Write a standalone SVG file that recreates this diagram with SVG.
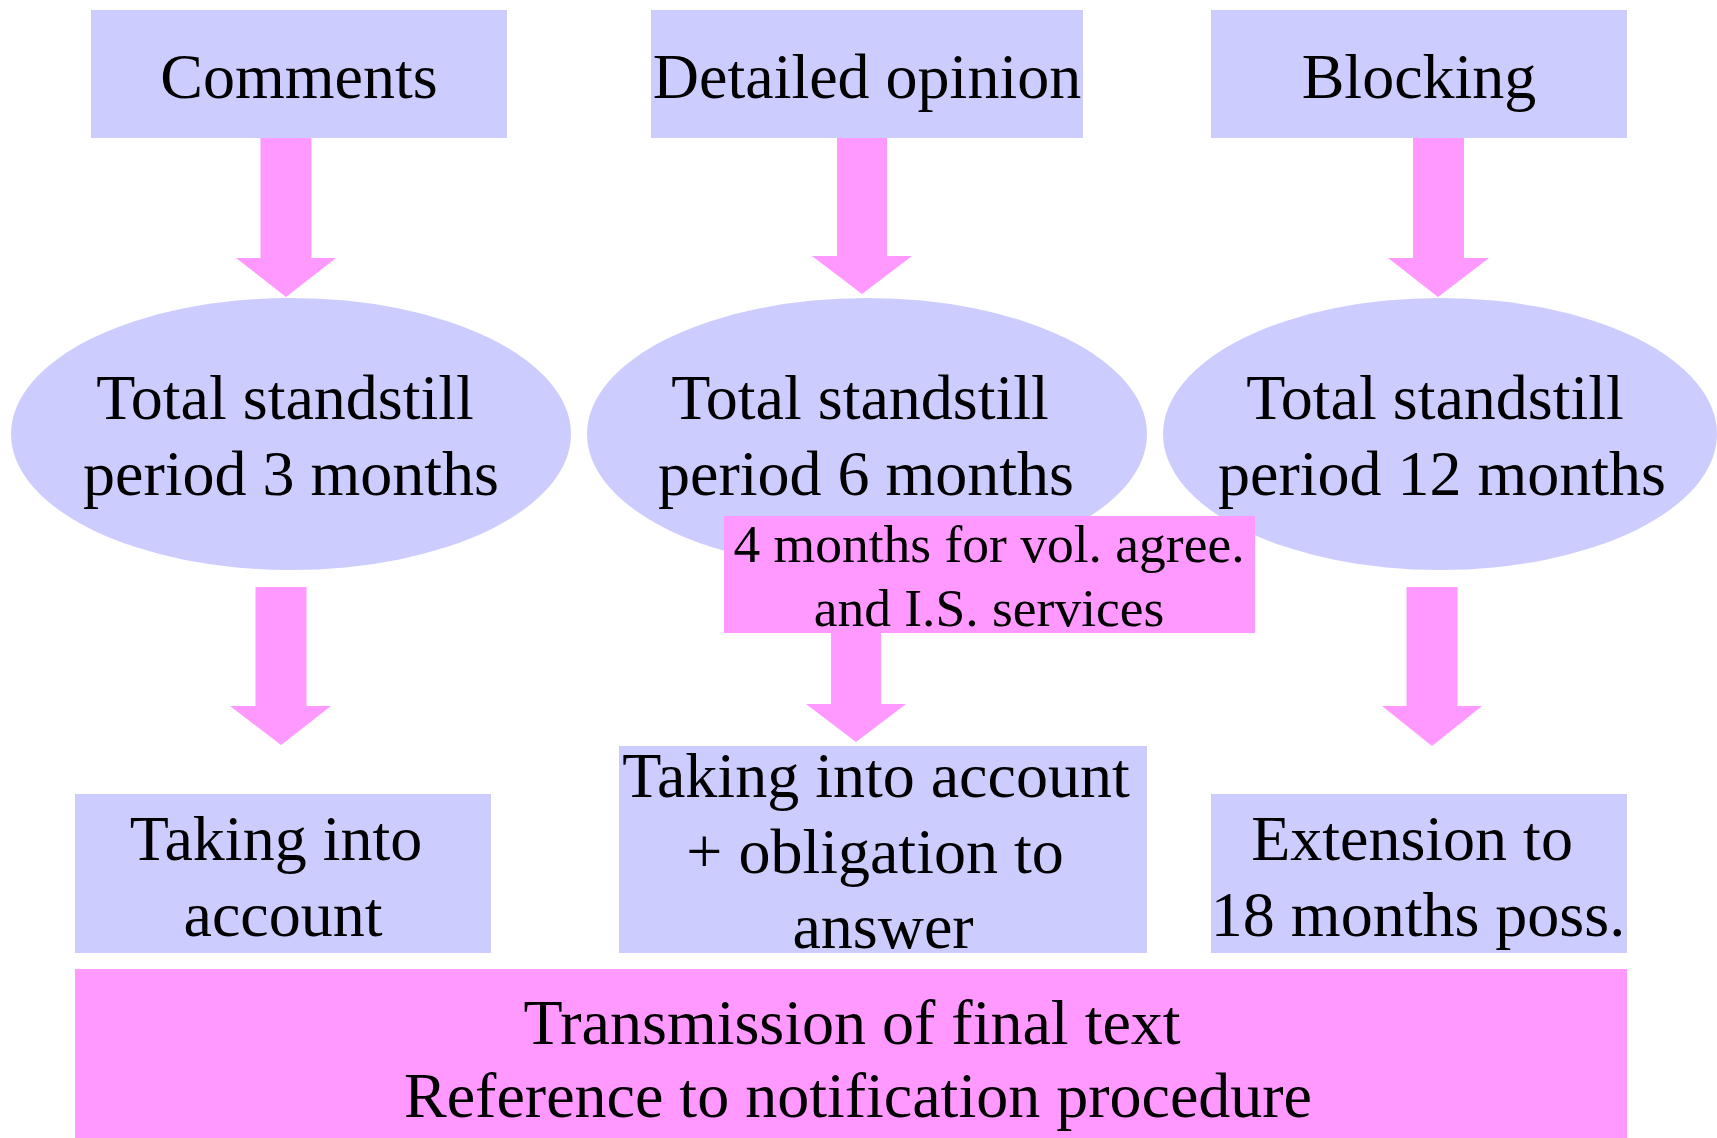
<svg xmlns="http://www.w3.org/2000/svg" width="1717" height="1138" viewBox="0 0 1717 1138">
<style>
.box{fill:#CCCCFF}
.pink{fill:#FF99FF}
.t{font-family:"Liberation Serif","Times New Roman",serif;font-size:64px;fill:#000;text-anchor:middle}
.s{font-family:"Liberation Serif","Times New Roman",serif;font-size:53.5px;fill:#000;text-anchor:middle}
</style>
<rect width="1717" height="1138" fill="#fff"/>
<g id="connectors">
<polygon class="pink" points="260.5,138 311.5,138 311.5,258 336,258 286,297 236,258 260.5,258"/>
<polygon class="pink" points="837,138 887,138 887,256 912,256 862,294 812,256 837,256"/>
<polygon class="pink" points="1413,138 1464,138 1464,258 1489,258 1438,297 1388,258 1413,258"/>
<polygon class="pink" points="255.5,587 306.5,587 306.5,706 331,706 281,745 230,706 255.5,706"/>
<polygon class="pink" points="831,630 881,630 881,704 906,704 856,742 806,704 831,704"/>
<polygon class="pink" points="1406.5,587 1457.5,587 1457.5,706 1482,706 1432,746 1382,706 1406.5,706"/>
</g>
<g id="comments">
<rect class="box" x="91" y="10" width="416" height="128"/>
<text class="t" x="299" y="98">Comments</text>
</g>
<g id="detailed-opinion">
<rect class="box" x="651" y="10" width="432" height="128"/>
<text class="t" x="867" y="98">Detailed opinion</text>
</g>
<g id="blocking">
<rect class="box" x="1211" y="10" width="416" height="128"/>
<text class="t" x="1419" y="98">Blocking</text>
</g>
<g id="standstill-3">
<ellipse class="box" cx="291" cy="434" rx="280" ry="136"/>
<text class="t" x="285" y="419">Total standstill</text>
<text class="t" x="291" y="495">period 3 months</text>
</g>
<g id="standstill-6">
<ellipse class="box" cx="867" cy="434" rx="280" ry="136"/>
<text class="t" x="860" y="419">Total standstill</text>
<text class="t" x="866" y="495">period 6 months</text>
</g>
<g id="standstill-12">
<ellipse class="box" cx="1440" cy="434" rx="277" ry="136"/>
<text class="t" x="1435" y="419">Total standstill</text>
<text class="t" x="1442" y="495">period 12 months</text>
</g>
<g id="label-4-months">
<rect class="pink" x="724" y="516" width="531" height="117"/>
<text class="s" x="989" y="562">4 months for vol. agree.</text>
<text class="s" x="989" y="626">and I.S. services</text>
</g>
<g id="taking-into-account">
<rect class="box" x="75" y="794" width="416" height="159"/>
<text class="t" x="276" y="860">Taking into</text>
<text class="t" x="283" y="936">account</text>
</g>
<g id="taking-obligation">
<rect class="box" x="619" y="746" width="528" height="207"/>
<text class="t" x="876" y="797">Taking into account</text>
<text class="t" x="875" y="873">+ obligation to</text>
<text class="t" x="883" y="948">answer</text>
</g>
<g id="extension">
<rect class="box" x="1211" y="794" width="416" height="159"/>
<text class="t" x="1412" y="860">Extension to</text>
<text class="t" x="1418" y="936">18 months poss.</text>
</g>
<g id="transmission">
<rect class="pink" x="75" y="969" width="1552" height="169"/>
<text class="t" x="852" y="1044">Transmission of final text</text>
<text class="t" x="858" y="1117">Reference to notification procedure</text>
</g>
</svg>
